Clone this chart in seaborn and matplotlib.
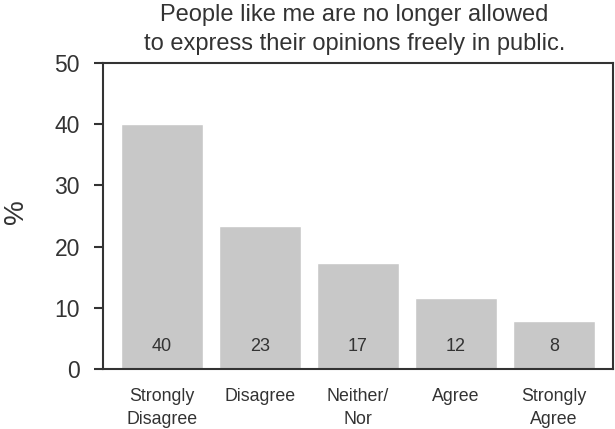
import numpy as np
import pandas as pd
import seaborn as sns
import matplotlib.pyplot as plt

categories = ["Strongly\nDisagree", "Disagree", "Neither/\nNor", "Agree", "Strongly\nAgree"]
percent = [40.0, 23.4, 17.3, 11.6, 7.8]
labels = ["40", "23", "17", "12", "8"]

df = pd.DataFrame({"response": categories, "pct": percent})

sns.set_style("white")
plt.rcParams["font.family"] = ["Liberation Sans", "DejaVu Sans"]
txt = "#333333"

fig = plt.figure(figsize=(6.15, 4.29), dpi=100)
# axes box in pixels: x 103..613, y 63..369
ax = fig.add_axes([103 / 615, 1 - 369 / 429, 510 / 615, 306 / 429])

sns.barplot(data=df, x="response", y="pct", color="#c8c8c8", saturation=1,
            width=0.83, ax=ax)

# value labels at the foot of each bar
for i, lab in enumerate(labels):
    ax.text(i, 2.9, lab, ha="center", va="baseline", fontsize=13, color=txt)

ax.set_xlim(-0.6, 4.6)
ax.set_ylim(0, 50)
ax.set_yticks(range(0, 51, 10))
ax.set_xlabel("")
ax.set_ylabel("%", fontsize=20, color=txt)
ax.yaxis.set_label_coords(-0.145, 0.514)
ax.tick_params(axis="y", left=True, length=6.5, width=1.5, color=txt,
               labelsize=16.5, labelcolor=txt, pad=10)
ax.tick_params(axis="x", bottom=False, length=0, labelsize=12.8,
               labelcolor=txt, pad=14)
for t in ax.get_xticklabels():
    t.set_linespacing(1.45)
for s in ax.spines.values():
    s.set_color(txt)
    s.set_linewidth(1.5)

ax.set_title("People like me are no longer allowed\nto express their opinions freely in public.",
             fontsize=17, color=txt, x=0.493, pad=9.7, linespacing=1.4)

fig.savefig("out.png", dpi=100)
